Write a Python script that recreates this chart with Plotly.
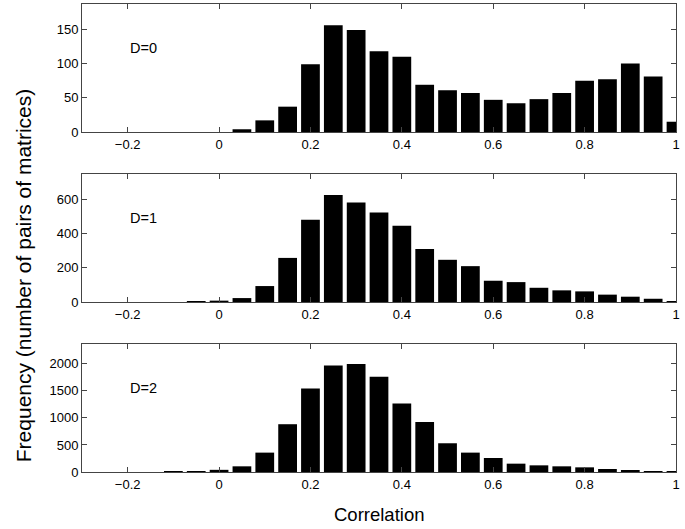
import plotly.graph_objects as go

# Bin centres (correlation), bin width 0.05
centers = [round(-0.25 + 0.05 * i, 2) for i in range(26)]  # -0.25 .. 1.0

d0_counts = [0, 0, 0, 0, 0, 0, 4, 17, 37, 99, 156, 149, 118, 110, 69, 61, 57, 47, 42, 48, 57, 75, 77, 100, 81, 15]
d1_counts = [0, 0, 0, 0, 3, 8, 23, 93, 257, 480, 623, 580, 522, 445, 309, 246, 209, 124, 116, 83, 68, 62, 43, 31, 19, 6]
d2_counts = [0, 0, 0, 5, 15, 40, 105, 358, 883, 1543, 1969, 1994, 1759, 1265, 926, 531, 358, 259, 154, 123, 105, 86, 56, 31, 15, 5]

panel_labels = ["D=0", "D=1", "D=2"]
y_ranges = [[0, 187], [0, 746], [0, 2365]]
y_ticks = [[0, 50, 100, 150], [0, 200, 400, 600], [0, 500, 1000, 1500, 2000]]
x_ticks = [-0.2, 0, 0.2, 0.4, 0.6, 0.8, 1]
x_ticktext = ["\u22120.2", "0", "0.2", "0.4", "0.6", "0.8", "1"]

FONT = "Liberation Sans, Arial, Helvetica, sans-serif"

fig = go.Figure()
series = [d0_counts, d1_counts, d2_counts]
domains = [[0.7265, 1.0], [0.3632, 0.6368], [0.0, 0.2735]]

for i, counts in enumerate(series):
    n = i + 1
    xa = "x" if n == 1 else f"x{n}"
    ya = "y" if n == 1 else f"y{n}"
    fig.add_trace(go.Bar(
        x=centers, y=counts, width=0.041,
        marker=dict(color="black", line=dict(width=0)),
        xaxis=xa, yaxis=ya, showlegend=False, hoverinfo="x+y",
    ))
    axis_common = dict(
        showline=True, linecolor="#444", linewidth=1, mirror="ticks",
        ticks="inside", ticklen=5, tickcolor="#444", tickwidth=1,
        showgrid=False, zeroline=False,
        tickfont=dict(family=FONT, size=13, color="black"),
    )
    fig.layout[f"xaxis{'' if n == 1 else n}"] = dict(
        axis_common, domain=[0, 1], anchor=ya, range=[-0.3, 1.0],
        tickvals=x_ticks, ticktext=x_ticktext,
    )
    fig.layout[f"yaxis{'' if n == 1 else n}"] = dict(
        axis_common, domain=domains[i], anchor=xa, range=y_ranges[i],
        tickvals=y_ticks[i],
    )
    fig.add_annotation(
        x=-0.2, y=0.66, xref=xa, yref=f"{ya} domain",
        text=panel_labels[i], showarrow=False, xanchor="left", yanchor="middle",
        font=dict(family=FONT, size=14.5, color="black"),
    )

fig.add_annotation(
    x=0.5, y=-0.09, xref="paper", yref="paper", text="Correlation",
    showarrow=False, xanchor="center", yanchor="middle",
    font=dict(family=FONT, size=18.5, color="black"),
)
fig.add_annotation(
    x=-0.098, y=0.42, xref="paper", yref="paper",
    text="Frequency (number of pairs of matrices)", textangle=-90,
    showarrow=False, xanchor="center", yanchor="middle",
    font=dict(family=FONT, size=21, color="black"),
)

fig.update_layout(
    width=685, height=529,
    margin=dict(l=82, r=9, t=4, b=57),
    plot_bgcolor="white", paper_bgcolor="white",
    bargap=0.18,
)

fig.write_html("out.html", config={"displayModeBar": False},
               post_script="document.body.style.margin='0';")
